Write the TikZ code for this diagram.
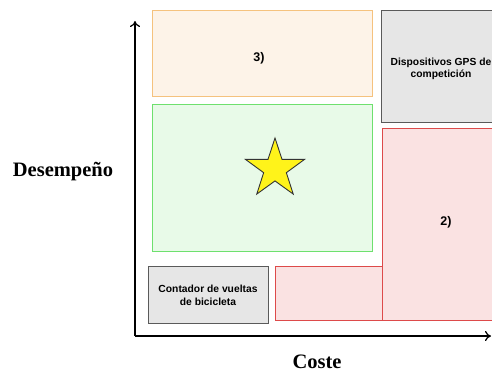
\documentclass[tikz,border=0pt]{standalone}
\usepackage{fontspec}
\setmainfont{Liberation Serif}
\setsansfont{Liberation Sans}
\usetikzlibrary{shapes.geometric,arrows.meta}
\definecolor{orB}{HTML}{F5C27E}
\definecolor{orF}{HTML}{FDF3E8}
\definecolor{grB}{HTML}{5A5A5A}
\definecolor{grF}{HTML}{E6E6E6}
\definecolor{gnB}{HTML}{6EE06E}
\definecolor{gnF}{HTML}{E8FAE8}
\definecolor{rdB}{HTML}{DD4A4A}
\definecolor{rdF}{HTML}{FAE2E2}
\definecolor{stF}{HTML}{FFF31A}
\begin{document}
\begin{tikzpicture}[x=1pt,y=-1pt,
  zone/.style={draw,line width=0.8pt},
  boxtext/.style={font=\sffamily\bfseries\fontsize{10.3}{12.5}\selectfont,align=center},
  numtext/.style={font=\sffamily\bfseries\fontsize{12.5}{14}\selectfont},
  axis/.style={line width=1.4pt,-{To[length=6pt,width=10pt,line width=1.2pt]}},
  axlabel/.style={font=\rmfamily\bfseries\fontsize{20.5}{24}\selectfont}]
\useasboundingbox (0,0) rectangle (492,374);
\clip (0,0) rectangle (492,374);
% zones
\draw[zone,draw=orB,fill=orF] (152,10) rectangle (372,96);
\node[numtext] (three) at (259,58) {3)};
\draw[zone,draw=grB,fill=grF] (381,10) rectangle (500,122);
\node[boxtext] (gps) at (441,69) {Dispositivos GPS de\\competición};
\draw[zone,draw=gnB,fill=gnF] (152,104) rectangle (372,251);
\node[star,star points=5,star point ratio=2.6,minimum size=62pt,inner sep=0pt,draw=black!80,line width=0.9pt,fill=stF] (star) at (275,169) {};
\draw[zone,draw=rdB,fill=rdF] (382,128) rectangle (512,320);
\draw[zone,draw=rdB,fill=rdF] (275,266) rectangle (382,320);
\node[numtext] (two) at (446,222) {2)};
\draw[zone,draw=grB,fill=grF] (148,266) rectangle (268,323);
\node[boxtext] (lap) at (208,295.5) {Contador de vueltas\\de bicicleta};
% axes
\coordinate (o) at (135,336);
\coordinate (ytop) at (135,21);
\coordinate (xend) at (491,336);
\draw[axis] (o) -- (ytop);
\draw[axis] (o) -- (xend);
\node[axlabel] (ylab) at (63,172) {Desempeño};
\node[axlabel] (xlab) at (317,362) {Coste};
\end{tikzpicture}
\end{document}
